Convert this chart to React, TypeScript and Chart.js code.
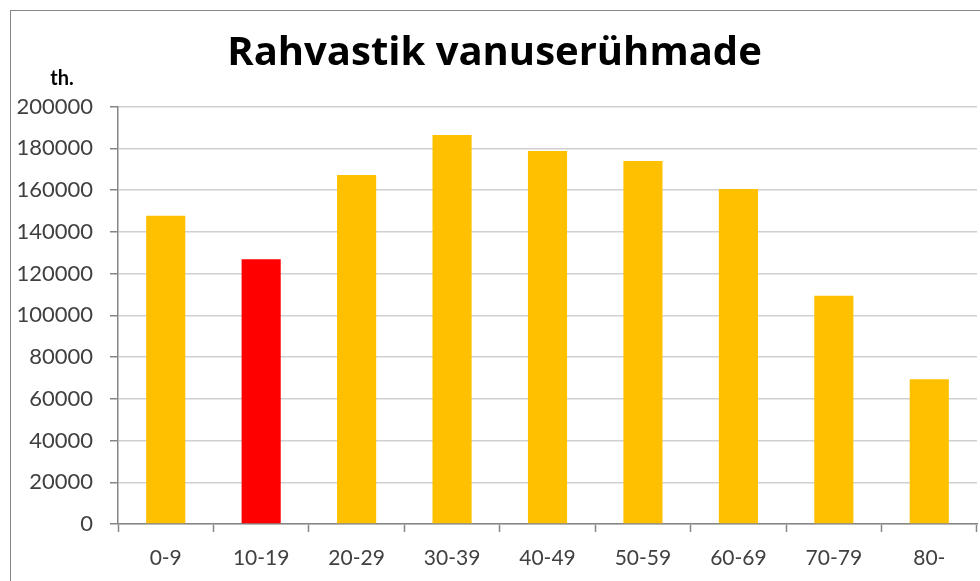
import React, { useEffect, useRef } from "react";
import { Chart, registerables } from "chart.js";

Chart.register(...registerables);

const TITLE = "Rahvastik vanuserühmade";
const UNIT_LABEL = "th.";
const categories = ["0-9", "10-19", "20-29", "30-39", "40-49", "50-59", "60-69", "70-79", "80-"];
const populationValues = [147700, 126800, 167200, 186300, 178700, 173900, 160500, 109400, 69300];
const highlightIndex = 1;
const BAR_COLOR = "#FFC000";
const HIGHLIGHT_COLOR = "#FF0000";
const Y_MIN = 0;
const Y_MAX = 200000;
const Y_STEP = 20000;

const FONT = "Lato, 'Open Sans', sans-serif";
const TITLE_FONT = "'Open Sans', Lato, sans-serif";

const unitLabelPlugin = {
  id: "unitLabel",
  afterDraw(chart: any) {
    const { ctx, chartArea } = chart;
    ctx.save();
    ctx.font = `bold 20px ${FONT}`;
    ctx.fillStyle = "#000";
    ctx.textAlign = "center";
    ctx.textBaseline = "middle";
    ctx.fillText(UNIT_LABEL, chartArea.left - 56, chartArea.top - 28);
    ctx.restore();
  },
};

export default function App() {
  const canvasRef = useRef<HTMLCanvasElement | null>(null);

  useEffect(() => {
    if (!canvasRef.current) return;
    const colors = categories.map((_, i) => (i === highlightIndex ? HIGHLIGHT_COLOR : BAR_COLOR));
    const chart = new Chart(canvasRef.current, {
      type: "bar",
      data: {
        labels: categories,
        datasets: [
          {
            data: populationValues,
            backgroundColor: colors,
            borderWidth: 0,
            barPercentage: 0.41,
            categoryPercentage: 1.0,
          },
        ],
      },
      options: {
        animation: false,
        responsive: false,
        maintainAspectRatio: false,
        layout: { padding: { left: 12, right: 3, top: 0, bottom: 0 } },
        plugins: {
          legend: { display: false },
          tooltip: { enabled: false },
          title: {
            display: true,
            text: TITLE,
            color: "#000",
            font: { family: TITLE_FONT, size: 40, weight: "bold", lineHeight: 1.2 },
            padding: { top: 30, bottom: 28.5 },
          },
        },
        scales: {
          x: {
            offset: true,
            grid: {
              offset: true,
              drawOnChartArea: false,
              drawTicks: true,
              tickLength: 8,
              tickColor: "#868686",
              tickWidth: 1.5,
            },
            border: { display: true, color: "#868686", width: 1.5 },
            ticks: {
              color: "#404040",
              font: { family: FONT, size: 21 },
              padding: 14,
              maxRotation: 0,
            },
            afterFit(scale: any) {
              scale.height = 57;
            },
          },
          y: {
            min: Y_MIN,
            max: Y_MAX,
            ticks: {
              stepSize: Y_STEP,
              color: "#404040",
              font: { family: FONT, size: 22 },
              padding: 17,
              callback: (value: any) => String(value),
            },
            grid: {
              color: "#d0d0d0",
              lineWidth: 1.5,
              tickLength: 8,
              tickColor: "#868686",
              tickWidth: 1.5,
            },
            border: { display: true, color: "#868686", width: 1.5 },
            afterFit(scale: any) {
              scale.width = 106;
            },
          },
        },
      },
      plugins: [unitLabelPlugin],
    });
    return () => chart.destroy();
  }, []);

  return (
    <div style={{ position: "fixed", left: 0, top: 0, width: 980, height: 581, overflow: "hidden", background: "#fff" }}>
      <div
        style={{
          position: "absolute",
          left: 10,
          top: 10,
          width: 1200,
          height: 1000,
          borderLeft: "1px solid #868686",
          borderTop: "1px solid #868686",
        }}
      />
      <canvas ref={canvasRef} width={980} height={581} style={{ position: "absolute", left: 0, top: 0 }} />
    </div>
  );
}
